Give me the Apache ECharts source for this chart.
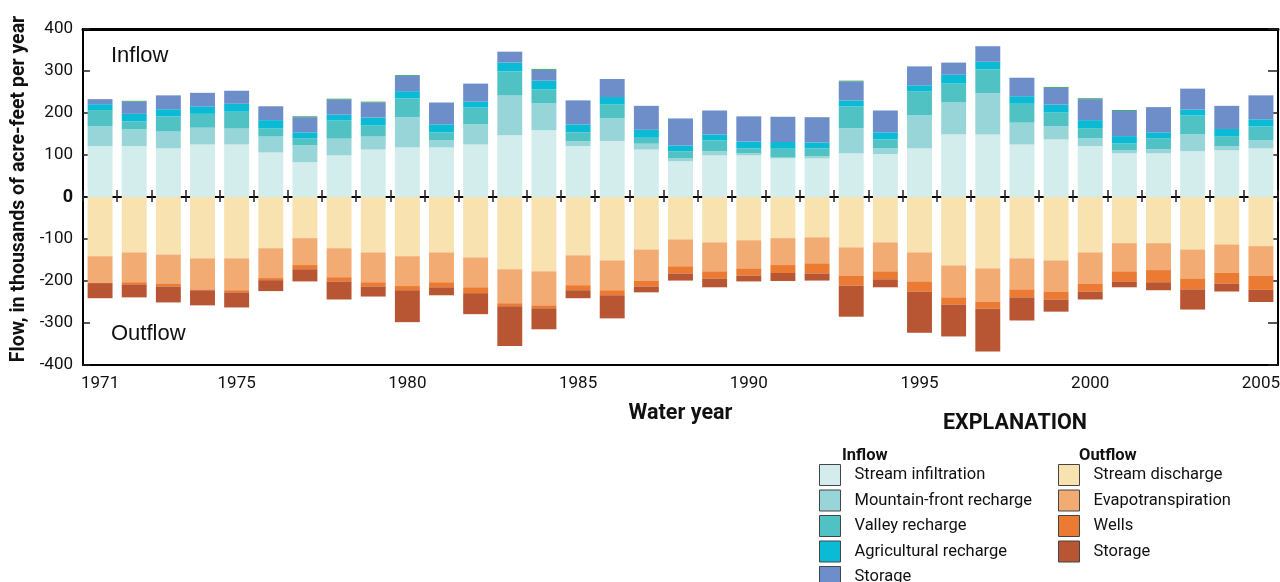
<!DOCTYPE html>
<html>
<head>
<meta charset="utf-8">
<script src="https://cdn.jsdelivr.net/npm/echarts@6/dist/echarts.min.js"></script>
<style>
html,body{margin:0;padding:0;background:#fff;}
#chart{width:1280px;height:582px;}
</style>
</head>
<body>
<div id="chart"></div>
<script>
const years = ['1971','1972','1973','1974','1975','1976','1977','1978','1979','1980','1981','1982','1983','1984','1985','1986','1987','1988','1989','1990','1991','1992','1993','1994','1995','1996','1997','1998','1999','2000','2001','2002','2003','2004','2005'];

// Inflow components (thousands of acre-feet per year)
const streamInfiltration = [121,121,116,125,125,106,83,99,113,118,118,125,147,159,121,133,113,85,99,99,92,92,104,102,116,149,149,125,137,121,104,104,109,111,116];
const mountainFront      = [48,40,40,40,38,38,40,40,31,72,17,48,95,64,12,55,14,7,10,5,2,5,60,14,79,76,98,52,31,19,7,10,40,10,19];
const valleyRecharge     = [38,19,36,33,40,19,17,43,26,45,19,40,57,33,21,33,14,17,26,12,21,19,52,21,57,45,57,45,33,24,17,26,45,24,33];
const agRecharge         = [14,18,17,18,19,20,14,14,19,17,19,14,21,21,19,17,19,14,14,16,16,14,14,17,14,21,18,18,19,19,17,14,14,17,17];
const inflowStorage      = [12,29,33,32,31,33,36,36,36,36,52,43,26,26,57,43,57,64,57,60,60,60,45,52,45,29,37,44,40,50,60,60,50,55,57];
const inflowOther        = [0,2,0,0,0,0,2,2,2,2,0,0,0,2,0,0,0,0,0,0,0,0,2,0,0,0,0,0,2,2,2,0,0,0,0];

// Outflow components (thousands of acre-feet per year)
const streamDischarge    = [141,132,137,146,146,122,98,122,132,141,132,144,172,177,139,151,125,101,108,103,98,96,120,108,132,163,170,146,151,132,110,110,125,113,117];
const evapotranspiration = [64,71,69,74,76,71,64,69,71,71,71,71,81,81,71,71,74,64,69,67,64,62,67,69,69,76,79,74,74,74,67,64,69,67,71];
const wells              = [0,5,7,2,5,5,10,10,10,10,12,14,7,7,12,12,14,17,17,17,19,24,24,19,24,17,17,19,19,19,24,29,26,26,33];
const outflowStorage     = [36,31,38,36,36,26,29,43,24,76,19,50,95,50,19,55,14,17,21,14,19,17,74,19,98,76,102,55,29,19,14,19,48,19,29];

const yTicks = {min:-400, max:400, step:100};

const FONT = "Roboto,'Liberation Sans',sans-serif";

const colors = {
  si:'#d3ecec', mf:'#98d5d8', vr:'#50c2c4', ag:'#0bbbd6', is:'#6d8ec8', other:'#2e9e5e',
  sd:'#f7e2b0', et:'#f2ab73', we:'#eb7b32', os:'#b85532'
};

const neg = a => a.map(v => -v);

function bar(name, data, color){
  return {
    name, type:'bar', stack:'flow', stackStrategy:'samesign', data, xAxisIndex:0, yAxisIndex:0,
    barCategoryGap:'27%',
    itemStyle:{color},
    emphasis:{disabled:true}
  };
}

const legendBase = {
  orient:'vertical', top:464, itemWidth:21, itemHeight:21, itemGap:3.5, padding:0,
  height:140, icon:'rect', selectedMode:false,
  itemStyle:{borderColor:'#444', borderWidth:1},
  textStyle:{fontFamily:FONT, fontSize:16.5, color:'#111', padding:[0,0,0,9], lineHeight:21}
};

const chart = echarts.init(document.getElementById('chart'));
const option = {
  animation:false,
  grid:{left:83, right:2, top:29, bottom:217, containLabel:false, outerBoundsMode:'none'},
  legend:[
    Object.assign({}, legendBase, {
      left:819,
      data:['Stream infiltration','Mountain-front recharge','Valley recharge','Agricultural recharge','Storage']
    }),
    Object.assign({}, legendBase, {
      left:1058,
      data:['Stream discharge','Evapotranspiration','Wells','Storage (outflow)'],
      formatter: n => n.replace(' (outflow)','')
    })
  ],
  xAxis:[
    {
      type:'category', data:years, position:'bottom',
      axisLine:{onZero:false, lineStyle:{color:'#000', width:2}},
      axisTick:{show:false},
      axisLabel:{
        interval:(i, v) => i === 0 || Number(v) % 5 === 0,
        fontFamily:FONT, fontSize:17, color:'#111', margin:10
      },
      name:'Water year', nameLocation:'middle', nameGap:38,
      nameTextStyle:{fontFamily:FONT, fontWeight:'bold', fontSize:21.5, color:'#111'}
    },
    {
      type:'category', data:years, position:'bottom',
      axisLine:{onZero:true, lineStyle:{color:'#000', width:2}},
      axisTick:{show:true, inside:true, length:7, interval:0, lineStyle:{color:'#222', width:1.5}},
      axisLabel:{show:false}
    },
    {
      type:'category', data:years, position:'bottom',
      axisLine:{onZero:true, show:false},
      axisTick:{show:true, inside:false, length:5, interval:0, lineStyle:{color:'#222', width:1.5}},
      axisLabel:{show:false}
    },
    {
      type:'category', data:years, position:'top',
      axisLine:{onZero:false, lineStyle:{color:'#000', width:3}},
      axisTick:{show:false}, axisLabel:{show:false}
    }
  ],
  yAxis:[
    {
      type:'value', min:yTicks.min, max:yTicks.max, interval:yTicks.step, position:'left',
      axisLine:{show:true, onZero:false, lineStyle:{color:'#000', width:2}},
      axisTick:{show:true, inside:true, length:7, lineStyle:{color:'#222', width:1.5}},
      splitLine:{show:false},
      axisLabel:{
        fontFamily:FONT, fontSize:17, color:'#111', margin:10,
        formatter: v => v === 0 ? '{z|0}' : String(v),
        rich:{z:{fontFamily:FONT, fontSize:18, fontWeight:'bold', color:'#111'}}
      },
      name:'Flow, in thousands of acre-feet per year', nameLocation:'middle', nameGap:48, nameRotate:90,
      nameTextStyle:{fontFamily:FONT, fontWeight:'bold', fontSize:19.5, color:'#111', padding:[0,0,0,16]}
    },
    {
      type:'value', min:yTicks.min, max:yTicks.max, interval:yTicks.step, position:'right',
      axisLine:{show:true, onZero:false, lineStyle:{color:'#000', width:2}},
      axisTick:{show:true, inside:true, length:10, lineStyle:{color:'#222', width:1.5}},
      splitLine:{show:false},
      axisLabel:{show:false}
    }
  ],
  series:[
    bar('Stream infiltration', streamInfiltration, colors.si),
    bar('Mountain-front recharge', mountainFront, colors.mf),
    bar('Valley recharge', valleyRecharge, colors.vr),
    bar('Agricultural recharge', agRecharge, colors.ag),
    bar('Storage', inflowStorage, colors.is),
    bar('Other inflow', inflowOther, colors.other),
    bar('Stream discharge', neg(streamDischarge), colors.sd),
    bar('Evapotranspiration', neg(evapotranspiration), colors.et),
    bar('Wells', neg(wells), colors.we),
    bar('Storage (outflow)', neg(outflowStorage), colors.os)
  ],
  graphic:[
    {type:'text', left:111, top:45, style:{text:'Inflow', font:"22px 'Liberation Sans',Arial,sans-serif", fill:'#111'}},
    {type:'text', left:111, top:323, style:{text:'Outflow', font:"22px 'Liberation Sans',Arial,sans-serif", fill:'#111'}},
    {type:'text', left:943, top:413, style:{text:'EXPLANATION', font:"bold 21.5px " + FONT, fill:'#111'}},
    {type:'text', left:842, top:447, style:{text:'Inflow', font:"bold 16.5px " + FONT, fill:'#111'}},
    {type:'text', left:1079, top:447, style:{text:'Outflow', font:"bold 16.5px " + FONT, fill:'#111'}}
  ]
};
chart.setOption(option);
</script>
</body>
</html>
